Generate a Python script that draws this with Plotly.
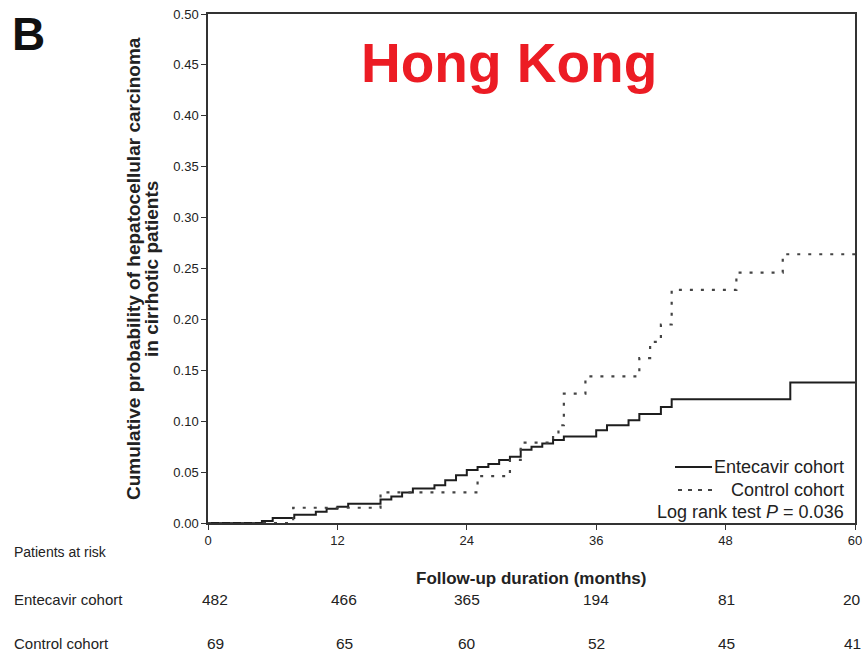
import plotly.graph_objects as go

# ---- data ----
ent_t = [0, 5, 6, 8, 10, 11, 12, 13, 16, 17, 18, 19, 21, 22, 23, 24, 25, 26, 27, 28, 29, 30, 31, 32, 33, 36, 37, 39, 40, 42, 43, 54, 60]
ent_p = [0, 0.002, 0.005, 0.008, 0.011, 0.014, 0.016, 0.019, 0.023, 0.026, 0.030, 0.034, 0.037, 0.042, 0.047, 0.052, 0.055, 0.058, 0.062, 0.065, 0.072, 0.075, 0.078, 0.0815, 0.085, 0.091, 0.096, 0.101, 0.107, 0.114, 0.1215, 0.138, 0.138]

ctl_t = [0, 7.9, 16, 25, 28, 29, 32, 32.5, 33, 35, 40, 41, 42, 43, 49, 53.3, 60]
ctl_p = [0, 0.015, 0.030, 0.046, 0.062, 0.079, 0.089, 0.096, 0.127, 0.144, 0.162, 0.178, 0.195, 0.229, 0.246, 0.264, 0.264]

risk_months = [0, 12, 24, 36, 48, 60]
risk_entecavir = [482, 466, 365, 194, 81, 20]
risk_control = [69, 65, 60, 52, 45, 41]

y_ticks = [0.00, 0.05, 0.10, 0.15, 0.20, 0.25, 0.30, 0.35, 0.40, 0.45, 0.50]

SANS = "Liberation Sans, Arial, sans-serif"
TXT = "#222222"

fig = go.Figure()
fig.add_trace(go.Scatter(x=ent_t, y=ent_p, mode="lines", line_shape="hv",
                         line=dict(color="#1e1e1e", width=2), showlegend=False))
fig.add_trace(go.Scatter(x=ctl_t, y=ctl_p, mode="lines", line_shape="hv",
                         line=dict(color="#444444", width=2.2, dash="3px,8px"), showlegend=False))

fig.update_layout(
    width=868, height=655,
    margin=dict(l=208, r=13, t=14, b=132),
    paper_bgcolor="white", plot_bgcolor="white",
    xaxis=dict(range=[0, 60], tickvals=risk_months, ticks="outside", ticklen=5,
               tickcolor="#333", showline=True, linecolor="#333", linewidth=1.5,
               mirror=True, showgrid=False, zeroline=False, automargin=False,
               tickfont=dict(family=SANS, size=13, color=TXT)),
    yaxis=dict(range=[0, 0.5], tickvals=y_ticks, tickformat=".2f", ticks="outside",
               ticklen=5, tickcolor="#333", showline=True, linecolor="#333",
               linewidth=1.5, mirror=True, showgrid=False, zeroline=False, automargin=False,
               tickfont=dict(family=SANS, size=13, color=TXT)),
)

def px(xpx):
    return (xpx - 208) / 647.0

def py(ypx):
    return (523 - ypx) / 509.0

ann = []
ann.append(dict(text="<b>B</b>", x=px(10), y=py(34), xanchor="left", yanchor="middle",
                font=dict(family=SANS, size=46, color="#111")))
ann.append(dict(text="<b>Hong Kong</b>", x=px(509), y=py(63), xanchor="center", yanchor="middle",
                font=dict(family=SANS, size=55, color="#ec1c24")))
ann.append(dict(text="<b>Cumulative probability of hepatocellular carcinoma</b>", textangle=-90,
                x=px(133), y=py(269), xanchor="center", yanchor="middle",
                font=dict(family=SANS, size=19, color=TXT)))
ann.append(dict(text="<b>in cirrhotic patients</b>", textangle=-90,
                x=px(151), y=py(269), xanchor="center", yanchor="middle",
                font=dict(family=SANS, size=19, color=TXT)))
ann.append(dict(text="<b>Follow-up duration (months)</b>", x=px(531), y=py(578),
                xanchor="center", yanchor="middle",
                font=dict(family=SANS, size=17, color=TXT)))
# legend text
ann.append(dict(text="Entecavir cohort", x=px(846), y=py(467), xanchor="right", yanchor="middle",
                font=dict(family=SANS, size=18, color=TXT)))
ann.append(dict(text="Control cohort", x=px(846), y=py(490), xanchor="right", yanchor="middle",
                font=dict(family=SANS, size=18, color=TXT)))
ann.append(dict(text="Log rank test <i>P</i> = 0.036", x=px(846), y=py(512), xanchor="right",
                yanchor="middle", font=dict(family=SANS, size=18, color=TXT)))
# risk table
rows = [("Patients at risk", 552, 14), ("Entecavir cohort", 599, 15), ("Control cohort", 643, 15)]
for label, ypix, fs in rows:
    ann.append(dict(text=label, x=px(12), y=py(ypix), xanchor="left", yanchor="middle",
                    font=dict(family=SANS, size=fs, color=TXT)))
shifts = [7, 7, 0, 0, 1, -3]
for m, v, s in zip(risk_months, risk_entecavir, shifts):
    ann.append(dict(text=str(v), x=m, xref="x", y=py(599), yref="paper", xshift=s,
                    xanchor="center", yanchor="middle",
                    font=dict(family=SANS, size=15.5, color=TXT)))
for m, v, s in zip(risk_months, risk_control, shifts):
    ann.append(dict(text=str(v), x=m, xref="x", y=py(643), yref="paper", xshift=s,
                    xanchor="center", yanchor="middle",
                    font=dict(family=SANS, size=15.5, color=TXT)))

for a in ann:
    a.setdefault("xref", "paper")
    a.setdefault("yref", "paper")
    a["showarrow"] = False
fig.update_layout(annotations=ann)

# legend sample lines
fig.add_shape(type="line", xref="paper", yref="paper", x0=px(675), x1=px(712),
              y0=py(467), y1=py(467), line=dict(color="#1e1e1e", width=2))
fig.add_shape(type="line", xref="paper", yref="paper", x0=px(678), x1=px(712),
              y0=py(490), y1=py(490), line=dict(color="#444444", width=2, dash="4px,6px"))

fig.write_html("out.html")
